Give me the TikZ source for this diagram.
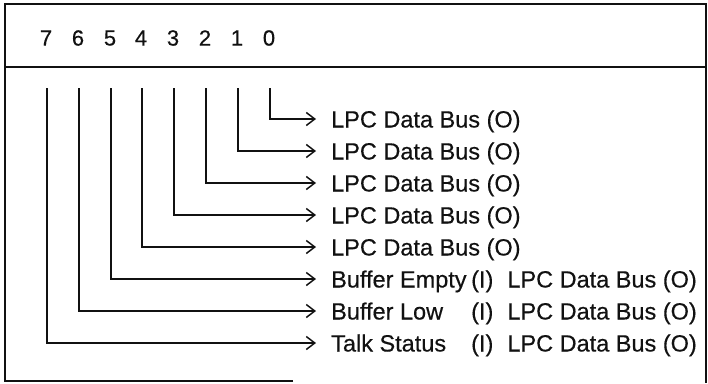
\documentclass[tikz,border=0pt]{standalone}
\usepackage{fontspec}
\setmainfont{Liberation Sans}
\newfontfamily\regfont{Liberation Sans}[FakeBold=0.4]
\usetikzlibrary{arrows.meta,positioning,calc}
\definecolor{cInk}{HTML}{111111}
\tikzset{
  frame/.style ={draw=cInk,line width=2.2pt},
  bitno/.style ={font=\regfont\fontsize{22}{24}\selectfont,inner sep=0pt,text=cInk},
  sigtxt/.style={font=\regfont\fontsize{23.5}{26}\selectfont,inner sep=0pt,anchor=west,
                 text height=17pt,text depth=0pt,text=cInk},
  wire/.style  ={draw=cInk,line width=1.4pt,
                 -{Straight Barb[length=8.5pt,width=13pt,line width=1.5pt]}},
}

\begin{document}
\begin{tikzpicture}[x=1pt, y=-1pt]
\useasboundingbox (0,0) rectangle (708,383);

\def\dy{32}
\def\ytop{88}     % where the bit wires start
\def\xtip{316}    % arrow tips
\def\xtxt{331}    % first label column
\def\xin{471}     % (I) column
\def\xout{697}    % right edge of the (O) column

% ===== register outline =================================================
\draw[frame] (293,381) -- (5,381) -- (5,4) -- (706,4) -- (706,383);
\draw[frame] (5,67) -- (706,67);

% ===== bit numbers and wires ============================================
\foreach [count=\i from 0] \x/\s in {270/{LPC Data Bus (O)},
                                    238/{LPC Data Bus (O)},
                                    206/{LPC Data Bus (O)},
                                    174/{LPC Data Bus (O)},
                                    142/{LPC Data Bus (O)},
                                    111/{Buffer Empty},
                                    79/{Buffer Low},
                                    47/{Talk Status}}{%
    \pgfmathsetmacro\y{119+\i*\dy}
    \node[bitno] (b\i) at (\x-1,38) {\i};
    \coordinate (t\i) at (\x,\ytop);
    \node[sigtxt] (l\i) at (\xtxt,\y) {\s};
    \coordinate (a\i) at (\xtip,\y);
    \draw[wire] (t\i) |- (a\i);
  }

% ===== dual-use bits: input status / output data =========================
\foreach \i in {5,6,7}{%
    \node[sigtxt] (i\i) at (\xin,119+\i*\dy) {(I)};
    \node[sigtxt,anchor=east] (o\i) at (\xout,119+\i*\dy) {LPC Data Bus (O)};
  }
\end{tikzpicture}
\end{document}
